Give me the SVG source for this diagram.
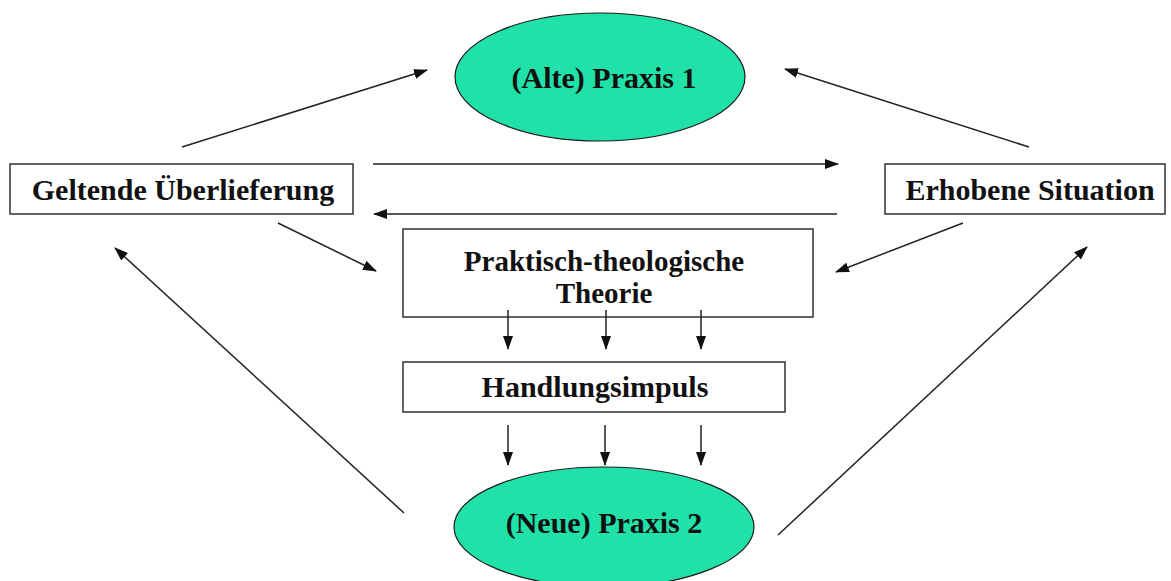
<svg xmlns="http://www.w3.org/2000/svg" width="1171" height="581" viewBox="0 0 1171 581">
<style>
.bg{fill:#ffffff}
.ell{fill:#20e2a8;stroke:#1a1a1a;stroke-width:1.2}
.box{fill:#ffffff;stroke:#333333;stroke-width:1.5}
.lbl{font-family:"Liberation Serif","Times New Roman",serif;font-weight:bold;font-size:30px;fill:#111111;text-anchor:middle}
.con{stroke:#222222;stroke-width:1.5;fill:none;marker-end:url(#ah)}
</style>
<defs>
<marker id="ah" markerUnits="userSpaceOnUse" markerWidth="14" markerHeight="10" refX="13" refY="5" orient="auto">
<path d="M0,0 L14,5 L0,10 z" fill="#111111"/>
</marker>
</defs>
<rect class="bg" x="0" y="0" width="1171" height="581"/>
<g id="node-alte-praxis">
<ellipse class="ell" cx="600" cy="77" rx="145" ry="64"/>
<text class="lbl" x="604" y="88">(Alte) Praxis 1</text>
</g>
<g id="node-geltende">
<rect class="box" x="10" y="164" width="343" height="50"/>
<text class="lbl" x="183" y="200">Geltende Überlieferung</text>
</g>
<g id="node-erhobene">
<rect class="box" x="885" y="164" width="280" height="50"/>
<text class="lbl" x="1030" y="200">Erhobene Situation</text>
</g>
<g id="node-theorie">
<rect class="box" x="403" y="229" width="410" height="88"/>
<text class="lbl" x="604" y="271" style="font-size:29px">Praktisch-theologische</text>
<text class="lbl" x="604" y="303" style="font-size:29px">Theorie</text>
</g>
<g id="node-handlungsimpuls">
<rect class="box" x="403" y="362" width="382" height="50"/>
<text class="lbl" x="595" y="397">Handlungsimpuls</text>
</g>
<g id="node-neue-praxis">
<ellipse class="ell" cx="604" cy="527" rx="150" ry="60"/>
<text class="lbl" x="604" y="533">(Neue) Praxis 2</text>
</g>
<g id="connectors">
<line class="con" x1="182" y1="147" x2="427" y2="70"/>
<line class="con" x1="1029" y1="147" x2="785" y2="69"/>
<line class="con" x1="373" y1="164" x2="838" y2="164"/>
<line class="con" x1="837" y1="214" x2="374" y2="214"/>
<line class="con" x1="278" y1="223" x2="376" y2="271"/>
<line class="con" x1="963" y1="223" x2="836" y2="272"/>
<line class="con" x1="508" y1="310" x2="508" y2="349"/>
<line class="con" x1="606" y1="310" x2="606" y2="349"/>
<line class="con" x1="701" y1="310" x2="701" y2="349"/>
<line class="con" x1="508" y1="425" x2="508" y2="465"/>
<line class="con" x1="605" y1="425" x2="605" y2="465"/>
<line class="con" x1="701" y1="425" x2="701" y2="465"/>
<line class="con" x1="404" y1="513" x2="115" y2="248"/>
<line class="con" x1="778" y1="535" x2="1087" y2="247"/>
</g>
</svg>
